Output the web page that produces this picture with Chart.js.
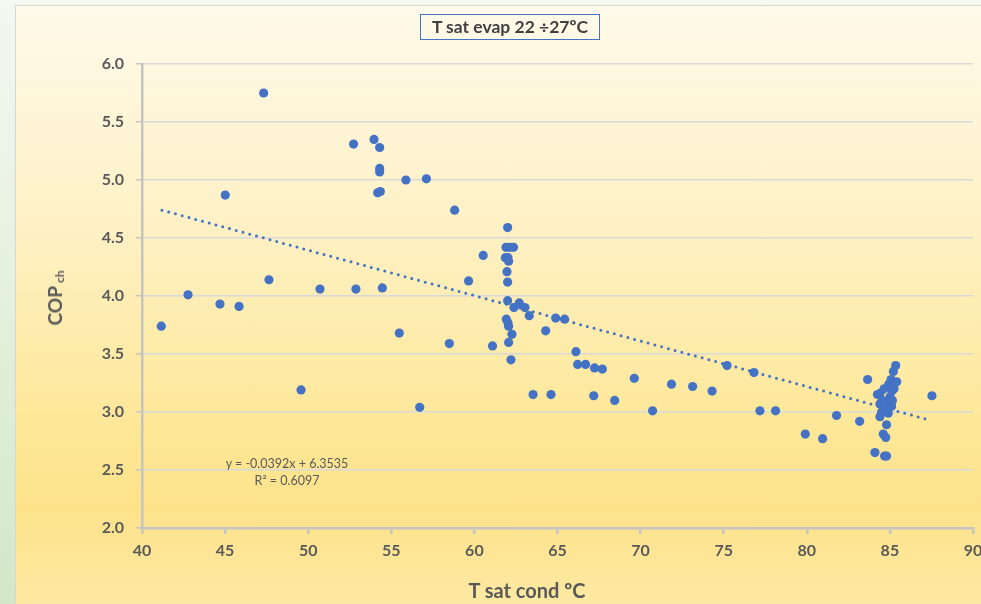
<!DOCTYPE html>
<html lang="en">
<head>
  <meta charset="UTF-8" />
  <title>T sat evap 22 ÷27ºC</title>
  <script src="https://cdn.jsdelivr.net/npm/chart.js"></script>
  <style>
    html, body {
      margin: 0;
      padding: 0;
      width: 981px;
      height: 604px;
      overflow: hidden;
      background: linear-gradient(180deg, #f3f8f0 0%, #e4f0dd 50%, #d3e7c8 100%);
      font-family: Lato, 'Liberation Sans', sans-serif;
    }

    .panel {
      position: absolute;
      left: 15px;
      top: 5px;
      width: 980px;
      height: 610px;
      border: 1px solid #d6d6d6;
      background: linear-gradient(180deg, #fffaea 0%, #fef1c6 35%, #fde796 70%, #fde28a 82%, #feeaa6 100%);
    }

    canvas {
      position: absolute;
      left: 0;
      top: 0;
    }

    .title {
      position: absolute;
      left: 420px;
      top: 14px;
      width: 178px;
      height: 24px;
      border: 1.5px solid #4472c4;
      color: #404040;
      font-weight: bold;
      font-size: 17.5px;
      line-height: 24px;
      text-align: center;
      white-space: nowrap;
    }

    .ytitle {
      position: absolute;
      left: 55px;
      top: 298px;
      transform: translate(-50%, -50%) rotate(-90deg);
      color: #595959;
      font-weight: bold;
      font-size: 19px;
      white-space: nowrap;
    }

    .ytitle sub {
      font-size: 12px;
      vertical-align: -2px;
      margin-left: 3px;
    }

    .xtitle {
      position: absolute;
      left: 527px;
      top: 590px;
      transform: translate(-50%, -50%);
      color: #595959;
      font-weight: bold;
      font-size: 20px;
      white-space: nowrap;
    }

    .eq {
      position: absolute;
      left: 287px;
      transform: translateX(-50%);
      color: #595959;
      font-size: 12.5px;
      white-space: nowrap;
    }
  </style>
</head>
<body>
  <div class="panel"></div>
  <canvas id="copChart" width="1000" height="604"></canvas>
  <div class="title">T sat evap 22 ÷27ºC</div>
  <div class="ytitle">COP<sub>ch</sub></div>
  <div class="xtitle">T sat cond ºC</div>
  <div class="eq" style="top:456px">y = -0.0392x + 6.3535</div>
  <div class="eq" style="top:473px">R² = 0.6097</div>

  <script>
    // T sat cond (ºC)
    const condTemp = [
      41.16, 42.77, 44.69, 45.01, 45.84, 47.32, 47.64, 49.57, 50.71, 52.73,
      52.87, 53.96, 54.30, 54.30, 54.30, 54.18, 54.34, 54.46, 55.48, 55.88,
      56.71, 57.11, 58.49, 58.81, 59.65, 60.53, 61.09, 62.00, 61.90, 62.10,
      62.35, 61.86, 62.02, 62.06, 61.96, 62.00, 62.00, 62.38, 62.70, 63.04,
      63.30, 61.92, 62.02, 62.06, 62.26, 62.06, 62.20, 63.53, 64.29, 64.61,
      64.89, 65.43, 66.11, 66.21, 66.69, 67.18, 67.23, 67.70, 68.44, 69.62,
      70.72, 71.86, 73.13, 74.30, 75.20, 76.82, 77.18, 78.12, 79.91, 80.95,
      81.79, 83.18, 83.66, 87.53, 84.10, 84.68, 84.80, 85.35, 85.21, 85.07,
      85.41, 84.93, 85.12, 84.40, 84.25, 85.00, 84.92, 84.40, 85.10, 84.50,
      84.90, 84.40, 84.70, 84.80, 84.60, 84.75, 85.15, 84.65, 85.25, 84.55
    ];

    // COP ch
    const copValues = [
      3.74, 4.01, 3.93, 4.87, 3.91, 5.75, 4.14, 3.19, 4.06, 5.31,
      4.06, 5.35, 5.28, 5.10, 5.07, 4.89, 4.90, 4.07, 3.68, 5.00,
      3.04, 5.01, 3.59, 4.74, 4.13, 4.35, 3.57, 4.59, 4.42, 4.42,
      4.42, 4.33, 4.33, 4.30, 4.21, 4.12, 3.96, 3.90, 3.94, 3.90,
      3.83, 3.80, 3.77, 3.74, 3.67, 3.60, 3.45, 3.15, 3.70, 3.15,
      3.81, 3.80, 3.52, 3.41, 3.41, 3.14, 3.38, 3.37, 3.10, 3.29,
      3.01, 3.24, 3.22, 3.18, 3.40, 3.34, 3.01, 3.01, 2.81, 2.77,
      2.97, 2.92, 3.28, 3.14, 2.65, 2.62, 2.62, 3.40, 3.35, 3.28,
      3.26, 3.24, 3.18, 3.16, 3.15, 3.13, 3.08, 3.07, 3.05, 3.00,
      2.99, 2.96, 3.02, 2.89, 2.81, 2.78, 3.10, 3.20, 3.20, 3.10
    ];

    // linear trend line, end points
    const trendX = [41.2, 87.4];
    const trendY = [4.74, 2.93];

    const xTicks = [40, 45, 50, 55, 60, 65, 70, 75, 80, 85, 90];
    const yTicks = [2.0, 2.5, 3.0, 3.5, 4.0, 4.5, 5.0, 5.5, 6.0];

    const points = condTemp.map((x, i) => ({ x: x, y: copValues[i] }));
    const trend = trendX.map((x, i) => ({ x: x, y: trendY[i] }));

    const tickFont = { family: "Lato, 'Liberation Sans', sans-serif", size: 16, weight: 'bold' };

    new Chart(document.getElementById("copChart").getContext("2d"), {
      type: "scatter",
      data: {
        datasets: [{
          label: "COP ch",
          data: points,
          backgroundColor: "#4472c4",
          borderWidth: 0,
          pointRadius: 4.6,
          pointHoverRadius: 4.6
        }, {
          type: "line",
          label: "Linear",
          data: trend,
          borderColor: "#4472c4",
          borderWidth: 3,
          borderDash: [0, 7],
          borderCapStyle: "round",
          pointRadius: 0,
          fill: false
        }]
      },
      options: {
        responsive: false,
        animation: false,
        layout: {
          padding: { left: 0, right: 27, top: 64, bottom: 0 }
        },
        plugins: {
          legend: { display: false },
          tooltip: { enabled: false }
        },
        scales: {
          x: {
            type: "linear",
            min: 40,
            max: 90,
            afterFit: (scale) => { scale.height = 76; },
            afterBuildTicks: (scale) => { scale.ticks = xTicks.map(v => ({ value: v })); },
            border: { display: true, color: "#c4c4c4", width: 2.5 },
            grid: { drawOnChartArea: false, drawTicks: true, tickLength: 6, tickColor: "#c4c4c4", lineWidth: 2.5 },
            ticks: { color: "#595959", font: tickFont, padding: 7, maxRotation: 0 }
          },
          y: {
            min: 2,
            max: 6,
            afterFit: (scale) => { scale.width = 142; },
            afterBuildTicks: (scale) => { scale.ticks = yTicks.map(v => ({ value: v })); },
            border: { display: true, color: "#c4c4c4", width: 2.5 },
            grid: { color: "#d9d9d9", lineWidth: 1.5, tickLength: 6, tickColor: "#c4c4c4" },
            ticks: {
              color: "#595959",
              font: tickFont,
              padding: 12,
              callback: (v) => v.toFixed(1)
            }
          }
        }
      }
    });
  </script>
</body>
</html>
